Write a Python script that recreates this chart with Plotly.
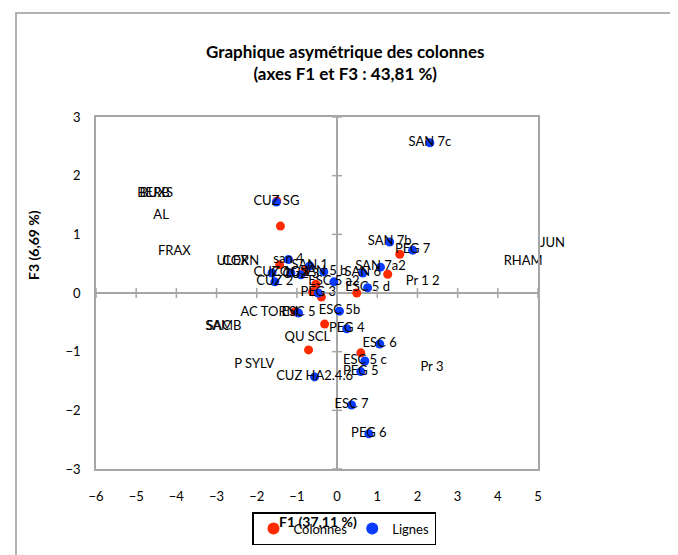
import plotly.graph_objects as go

# ---------------- data ----------------
lignes_labels = ["SAN 7c", "CUZ SG", "SAN 7b", "PEG 7", "SAN 7a2", "SAN 6", "ESC 5 d", "ESC 5b",
                 "PEG 4", "ESC 6", "ESC 5 c", "PEG 5", "ESC 7", "PEG 6", "CUZ HA2.4.6", "ESC 5",
                 "san 4", "CUZ 1", "CUZ 2", "COG 1", "CUZ 3", "SAN 1", "SAN 5 b", "ESC 5 a2", "PEG 3"]
lignes_f1 = [2.31, -1.51, 1.31, 1.88, 1.08, 0.64, 0.76, 0.06,
             0.24, 1.06, 0.69, 0.59, 0.36, 0.79, -0.56, -0.96,
             -1.21, -1.62, -1.55, -1.15, -0.90, -0.68, -0.33, -0.08, -0.47]
lignes_f3 = [2.56, 1.55, 0.87, 0.73, 0.44, 0.34, 0.09, -0.31,
             -0.61, -0.87, -1.16, -1.34, -1.91, -2.40, -1.43, -0.34,
             0.57, 0.34, 0.19, 0.34, 0.31, 0.46, 0.36, 0.19, 0.00]

colonnes_f1 = [-1.50, -1.41, 1.56, 1.26, 0.49, -0.31, 0.59, -0.71, -0.61, -0.39, -1.43, -0.53, -0.80, -1.05]
colonnes_f3 = [1.57, 1.14, 0.66, 0.32, 0.00, -0.53, -1.02, -0.97, 0.02, -0.07, 0.48, 0.15, 0.38, -0.32]

col_labels = ["BERB", "BUXS", "AL", "FRAX", "ULEX", "CORN", "SAMB", "SAC", "P SYLV", "AC TORM",
              "QU SCL", "Pr 3", "Pr 1 2", "RHAM", "JUN"]
col_label_f1 = [-4.57, -4.50, -4.38, -4.05, -2.60, -2.40, -2.83, -2.95, -2.06, -1.68,
                -0.74, 2.36, 2.13, 4.63, 5.37]
col_label_f3 = [1.70, 1.70, 1.31, 0.70, 0.53, 0.53, -0.58, -0.58, -1.23, -0.34,
                -0.77, -1.28, 0.20, 0.53, 0.87]

x_ticks = [-6, -5, -4, -3, -2, -1, 0, 1, 2, 3, 4, 5]
y_ticks = [-3, -2, -1, 0, 1, 2, 3]

title_l1 = "Graphique asymétrique des colonnes"
title_l2 = "(axes F1 et F3 : 43,81 %)"
x_title = "F1 (37,11 %)"
y_title = "F3 (6,69 %)"

# ---------------- figure ----------------
FONT = "Lato, 'Liberation Sans', sans-serif"
RED = "#FF2A00"
BLUE = "#0A3CFF"
GRAY = "#A6A6A6"

X_RANGE = [x_ticks[0], x_ticks[-1]]
Y_RANGE = [y_ticks[0], y_ticks[-1]]

OFF = 8  # page offset of the figure in the browser
W, H = 678, 555
# target plot area in screen pixels: x 96..538, y 117..469
L, T = 96 - OFF, 117 - OFF
pw, ph = 442, 352
R = W - L - pw
B = H - T - ph


def px(x):
    return (x - OFF - L) / pw


def py(y):
    return (T + ph - (y - OFF)) / ph


def in_range(v, rng):
    return rng[0] <= v <= rng[1]


inside = [i for i in range(len(col_labels))
          if in_range(col_label_f1[i], X_RANGE) and in_range(col_label_f3[i], Y_RANGE)]
outside = [i for i in range(len(col_labels)) if i not in inside]

fig = go.Figure()
fig.add_trace(go.Scatter(x=colonnes_f1, y=colonnes_f3, mode="markers", name="Colonnes",
                         marker=dict(color=RED, size=9), cliponaxis=False))
fig.add_trace(go.Scatter(x=lignes_f1, y=lignes_f3, mode="markers+text", name="Lignes",
                         text=lignes_labels, textposition="middle center",
                         textfont=dict(family=FONT, size=13, color="#000"),
                         marker=dict(color=BLUE, size=9), cliponaxis=False))
fig.add_trace(go.Scatter(x=[col_label_f1[i] for i in inside], y=[col_label_f3[i] for i in inside],
                         mode="text", text=[col_labels[i] for i in inside],
                         textposition="middle center", showlegend=False,
                         textfont=dict(family=FONT, size=13, color="#000"), cliponaxis=False))

annotations = []
# labels whose position lies beyond the axis range (still shown, like the original)
for i in outside:
    fx = (col_label_f1[i] - X_RANGE[0]) / (X_RANGE[1] - X_RANGE[0])
    fy = (col_label_f3[i] - Y_RANGE[0]) / (Y_RANGE[1] - Y_RANGE[0])
    annotations.append(dict(text=col_labels[i], xref="paper", yref="paper", x=fx, y=fy,
                            xanchor="center", yanchor="middle", showarrow=False,
                            font=dict(family=FONT, size=13, color="#000")))

shapes = []
# tick marks crossing the zero lines
for t in x_ticks:
    shapes.append(dict(type="line", xref="x", yref="y", xsizemode="scaled", ysizemode="pixel",
                       yanchor=0, x0=t, x1=t, y0=-5, y1=5, line=dict(color=GRAY, width=1.5)))
for t in y_ticks:
    shapes.append(dict(type="line", xref="x", yref="y", xsizemode="pixel", ysizemode="scaled",
                       xanchor=0, x0=-5, x1=5, y0=t, y1=t, line=dict(color=GRAY, width=1.5)))
# outer chart border
shapes.append(dict(type="rect", xref="paper", yref="paper", x0=px(16), x1=px(674), y0=py(580), y1=py(13),
                   line=dict(color="#999999", width=1.5), layer="below"))

annotations += [
    dict(text="<b>" + title_l1 + "</b><br><b>" + title_l2 + "</b>", xref="paper", yref="paper",
         x=px(345), y=py(62), xanchor="center", yanchor="middle", showarrow=False,
         font=dict(family=FONT, size=17)),
    dict(text="<b>" + x_title + "</b>", xref="paper", yref="paper", x=px(318), y=py(521),
         xanchor="center", yanchor="middle", showarrow=False, font=dict(family=FONT, size=14)),
    dict(text="<b>" + y_title + "</b>", xref="paper", yref="paper", x=px(33), y=py(245),
         xanchor="center", yanchor="middle", showarrow=False, textangle=-90,
         font=dict(family=FONT, size=14)),
]

fig.update_layout(
    width=W, height=H,
    margin=dict(l=L, r=R, t=T, b=B),
    paper_bgcolor="white", plot_bgcolor="white",
    font=dict(family=FONT, size=13, color="#000"),
    shapes=shapes,
    xaxis=dict(range=X_RANGE, tickvals=x_ticks, showgrid=False, zeroline=True,
               zerolinecolor=GRAY, zerolinewidth=1.5, showline=True, mirror=True,
               linecolor=GRAY, linewidth=1.5, ticks="", ticklabelstandoff=15,
               tickfont=dict(family=FONT, size=13)),
    yaxis=dict(range=Y_RANGE, tickvals=y_ticks, showgrid=False, zeroline=True,
               zerolinecolor=GRAY, zerolinewidth=1.5, showline=True, mirror=True,
               linecolor=GRAY, linewidth=1.5, ticks="", ticklabelstandoff=11,
               tickfont=dict(family=FONT, size=13)),
    showlegend=True,
    legend=dict(orientation="h", x=px(252), y=py(512), xanchor="left", yanchor="top",
                bordercolor="#000", borderwidth=1.5, bgcolor="white",
                font=dict(family=FONT, size=13), itemsizing="constant",
                itemwidth=30, tracegroupgap=0),
    annotations=annotations,
)

fig.write_html("out.html")
